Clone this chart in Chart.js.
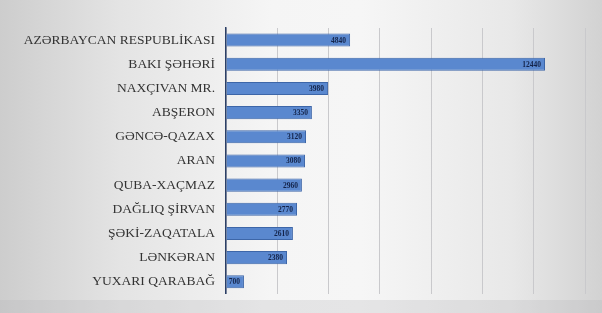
<!DOCTYPE html>
<html>
<head>
<meta charset="utf-8">
<script src="https://cdn.jsdelivr.net/npm/chart.js@4"></script>
<style>
html,body{margin:0;padding:0;}
body{width:602px;height:313px;overflow:hidden;
background:linear-gradient(to right,#cdcdcd 0%,#e4e4e4 20%,#f5f5f5 45%,#f6f6f6 60%,#e8e8e8 85%,#d2d2d2 100%);}
#wrap{position:absolute;left:0;top:0;width:602px;height:313px;}
#bottom{position:absolute;left:0;top:300px;width:602px;height:13px;background:rgba(180,180,185,0.25);}
</style>
</head>
<body>
<div id="bottom"></div>
<div id="wrap"><canvas id="c" width="602" height="313"></canvas></div>
<script>
const categories = ["AZƏRBAYCAN RESPUBLİKASI","BAKI ŞƏHƏRİ","NAXÇIVAN MR.","ABŞERON","GƏNCƏ-QAZAX","ARAN","QUBA-XAÇMAZ","DAĞLIQ ŞİRVAN","ŞƏKİ-ZAQATALA","LƏNKƏRAN","YUXARI QARABAĞ"];
const values = [4840,12440,3980,3350,3120,3080,2960,2770,2610,2380,700];
const xMax = 14000;
const xStep = 2000;

const valueLabels = {
  id:'valueLabels',
  afterDatasetsDraw(chart){
    const ctx = chart.ctx;
    const meta = chart.getDatasetMeta(0);
    ctx.save();
    ctx.font = 'bold 7.5px "Liberation Serif"';
    ctx.fillStyle = '#14244a';
    ctx.textAlign = 'right';
    ctx.textBaseline = 'middle';
    meta.data.forEach((bar,i)=>{
      ctx.fillText(String(values[i]), bar.x - 4, bar.y + 0.5);
    });
    ctx.restore();
  }
};

new Chart(document.getElementById('c'),{
  type:'bar',
  data:{labels:categories,datasets:[{
    data:values,
    backgroundColor:'#5a88cf',
    borderColor:'#3d66a8',
    borderWidth:1,
    categoryPercentage:0.54,
    barPercentage:1.0
  }]},
  options:{
    indexAxis:'y',
    responsive:false,
    animation:false,
    layout:{padding:{left:0,right:17,top:28,bottom:17}},
    plugins:{legend:{display:false},tooltip:{enabled:false}},
    scales:{
      x:{min:0,max:xMax,
        ticks:{display:false,stepSize:xStep},
        grid:{color:'#c9c9cc',lineWidth:1,drawTicks:false},
        border:{display:false}},
      y:{
        ticks:{color:'#333333',font:{family:'"Liberation Serif"',size:13.5},padding:11},
        grid:{display:false,drawTicks:false},
        border:{display:true,color:'#2b3f66',width:1.5},
        afterFit(s){s.width=226;}
      }
    }
  },
  plugins:[valueLabels]
});
</script>
</body>
</html>
